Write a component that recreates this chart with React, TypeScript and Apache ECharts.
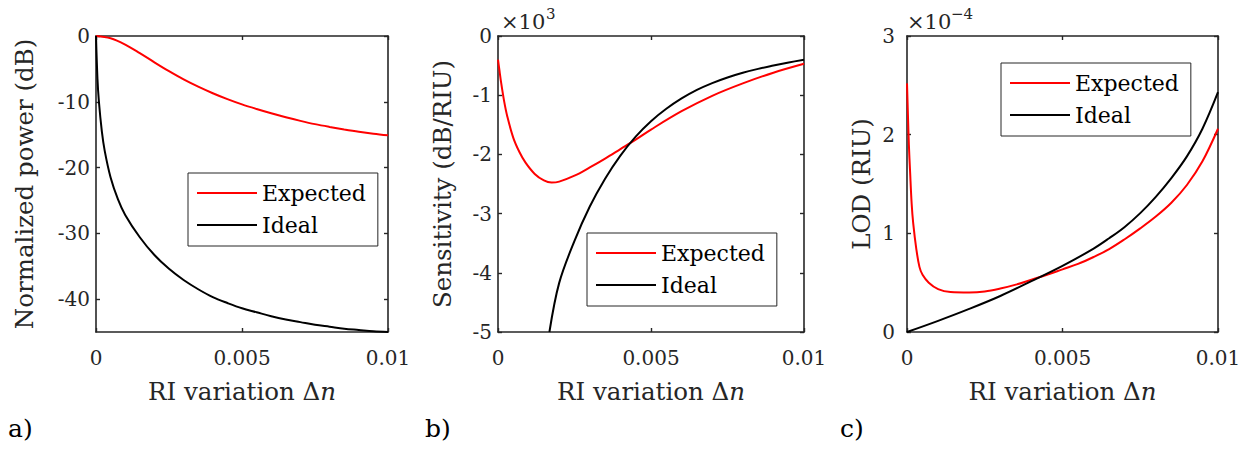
import React, { useEffect, useRef } from "react";
import * as echarts from "echarts";

// ---------- data ----------
const xTicks = [0, 0.005, 0.01];

// a) Normalized power (dB)
const powerExpectedX = [0, 0.0005, 0.001, 0.0015, 0.002, 0.0025, 0.003, 0.0035, 0.004, 0.0045, 0.005, 0.0055, 0.006, 0.0065, 0.007, 0.0075, 0.008, 0.0085, 0.009, 0.0095, 0.01];
const powerExpected = [0, -0.35, -1.3, -2.6, -4.0, -5.35, -6.6, -7.7, -8.7, -9.6, -10.4, -11.1, -11.75, -12.35, -12.9, -13.4, -13.82, -14.2, -14.55, -14.85, -15.1];
const powerIdealX = [0, 0.00005, 0.0001, 0.0002, 0.0003, 0.0005, 0.00075, 0.001, 0.0015, 0.002, 0.0025, 0.003, 0.0035, 0.004, 0.0045, 0.005, 0.0055, 0.006, 0.0065, 0.007, 0.0075, 0.008, 0.0085, 0.009, 0.0095, 0.01];
const powerIdeal = [0, -6.5, -10, -14.5, -17.5, -21.5, -24.8, -27.2, -30.6, -33.3, -35.4, -37.1, -38.5, -39.7, -40.6, -41.4, -42.0, -42.6, -43.1, -43.5, -43.9, -44.2, -44.5, -44.7, -44.9, -45.0];
const powerYTicks = [-40, -30, -20, -10, 0];

// b) Sensitivity (dB/RIU), in units of 10^3
const sensExpectedX = [0, 0.00005, 0.0001, 0.0002, 0.0003, 0.0005, 0.0007, 0.0009, 0.0012, 0.0015, 0.00175, 0.002, 0.0025, 0.003, 0.0035, 0.004, 0.0045, 0.005, 0.006, 0.007, 0.008, 0.009, 0.01];
const sensExpected = [-0.4, -0.59, -0.78, -1.1, -1.35, -1.72, -1.96, -2.14, -2.33, -2.44, -2.475, -2.46, -2.36, -2.22, -2.07, -1.91, -1.75, -1.58, -1.27, -1.01, -0.8, -0.62, -0.47];
const sensIdealX = [0.00168, 0.002, 0.0025, 0.003, 0.0035, 0.004, 0.0045, 0.005, 0.0055, 0.006, 0.0065, 0.007, 0.0075, 0.008, 0.0085, 0.009, 0.0095, 0.01];
const sensIdeal = [-5.0, -4.17, -3.46, -2.88, -2.41, -2.02, -1.7, -1.44, -1.23, -1.055, -0.91, -0.795, -0.7, -0.62, -0.555, -0.5, -0.448, -0.4];

// c) LOD (RIU), in units of 10^-4
const lodExpectedX = [0, 0.00003, 0.00006, 0.0001, 0.00015, 0.0002, 0.0003, 0.0004, 0.0005, 0.0007, 0.001, 0.0014, 0.002, 0.0025, 0.003, 0.0035, 0.004, 0.0045, 0.005, 0.0055, 0.006, 0.0065, 0.007, 0.0075, 0.008, 0.0085, 0.009, 0.0095, 0.01];
const lodExpected = [2.52, 2.2, 1.9, 1.62, 1.3, 1.1, 0.84, 0.66, 0.58, 0.5, 0.435, 0.405, 0.4, 0.41, 0.44, 0.48, 0.53, 0.58, 0.635, 0.69, 0.76, 0.84, 0.94, 1.05, 1.17, 1.31, 1.49, 1.73, 2.06];
const lodIdealX = [0, 0.001, 0.002, 0.003, 0.004, 0.005, 0.006, 0.0065, 0.007, 0.0075, 0.008, 0.0085, 0.009, 0.0095, 0.01];
const lodIdeal = [0, 0.113, 0.234, 0.365, 0.515, 0.67, 0.845, 0.95, 1.065, 1.205, 1.37, 1.56, 1.78, 2.06, 2.43];

const seriesNames = ["Expected", "Ideal"];
const panelLabels = ["a)", "b)", "c)"];
const yTitles = ["Normalized power (dB)", "Sensitivity (dB/RIU)", "LOD (RIU)"];
const xTitle = "RI variation Δ";

// ---------- style ----------
const FONT = '"DejaVu Serif", serif';
const AX = "#262626";
const RED = "#ff0000";
const BLACK = "#000000";

const grids = [
  { left: 96, top: 36, width: 292, height: 296 },
  { left: 498, top: 36, width: 306, height: 296 },
  { left: 907, top: 36, width: 311, height: 296 },
];

const zip = (xs: number[], ys: number[]) => xs.map((x, i) => [x, ys[i]]);

function buildOption() {
  const xAxis: any[] = [];
  const yAxis: any[] = [];
  const lineStyle = { color: AX, width: 1.6 };
  const tickBase = { show: true, inside: true, length: 4, lineStyle: { color: AX, width: 1.4 } };
  const labelBase = { fontFamily: FONT, fontSize: 20, color: AX };

  const yConf = [
    { min: -45, max: 0, custom: powerYTicks, margin: 6, fmt: (v: number) => String(v) },
    { min: -5, max: 0, interval: 1, margin: 6, fmt: (v: number) => String(Math.round(v)) },
    { min: 0, max: 3, interval: 1, margin: 12, fmt: (v: number) => String(Math.round(v)) },
  ];

  grids.forEach((g, i) => {
    const xCommon = { type: "value", gridIndex: i, min: 0, max: 0.01, interval: 0.005, splitLine: { show: false } };
    xAxis.push({
      ...xCommon,
      position: "bottom",
      axisLine: { show: true, onZero: false, lineStyle },
      axisTick: { ...tickBase, customValues: xTicks },
      axisLabel: { ...labelBase, margin: 16, customValues: xTicks, formatter: (v: number) => String(parseFloat(v.toFixed(4))) },
    });
    xAxis.push({
      ...xCommon,
      position: "top",
      axisLine: { show: true, onZero: false, lineStyle },
      axisTick: { ...tickBase, customValues: xTicks },
      axisLabel: { show: false },
    });
    const c: any = yConf[i];
    const yCommon: any = { type: "value", gridIndex: i, min: c.min, max: c.max, splitLine: { show: false } };
    if (c.interval) yCommon.interval = c.interval;
    const tick: any = { ...tickBase };
    const lab: any = { ...labelBase, margin: c.margin, formatter: c.fmt };
    if (c.custom) {
      tick.customValues = c.custom;
      lab.customValues = c.custom;
    }
    yAxis.push({ ...yCommon, position: "left", axisLine: { show: true, onZero: false, lineStyle }, axisTick: tick, axisLabel: lab });
    yAxis.push({ ...yCommon, position: "right", axisLine: { show: true, onZero: false, lineStyle }, axisTick: { ...tick }, axisLabel: { show: false } });
  });

  const mk = (name: string, color: string, gi: number, data: number[][]) => ({
    type: "line",
    name,
    xAxisIndex: gi * 2,
    yAxisIndex: gi * 2,
    data,
    symbol: "none",
    showSymbol: false,
    smooth: 0.35,
    clip: true,
    lineStyle: { color, width: 2 },
    itemStyle: { color },
    z: 3,
  });

  const series = [
    mk("Expected", RED, 0, zip(powerExpectedX, powerExpected)),
    mk("Ideal", BLACK, 0, zip(powerIdealX, powerIdeal)),
    mk("Expected", RED, 1, zip(sensExpectedX, sensExpected)),
    mk("Ideal", BLACK, 1, zip(sensIdealX, sensIdeal)),
    mk("Expected", RED, 2, zip(lodExpectedX, lodExpected)),
    mk("Ideal", BLACK, 2, zip(lodIdealX, lodIdeal)),
  ];

  const legendPos = [
    { left: 188, top: 173 },
    { left: 587, top: 233 },
    { left: 1001, top: 63 },
  ];
  const legend = legendPos.map((p) => ({
    ...p,
    orient: "vertical",
    data: seriesNames,
    icon: "rect",
    itemWidth: 60,
    itemHeight: 2,
    itemGap: 6,
    padding: [7, 12, 8, 9],
    borderColor: AX,
    borderWidth: 1,
    backgroundColor: "#ffffff",
    selectedMode: false,
    textStyle: { fontFamily: FONT, fontSize: 22, color: "#000000", lineHeight: 26 },
  }));

  const txt = (x: number, y: number, text: string, size: number, opts: any = {}) => ({
    type: "text",
    x,
    y,
    rotation: opts.rotation || 0,
    style: {
      text,
      fontFamily: FONT,
      fontSize: size,
      fill: opts.fill || AX,
      align: opts.align || "left",
      textAlign: opts.align || "left",
      verticalAlign: "middle",
      textVerticalAlign: "middle",
      rich: opts.rich,
    },
  });

  const yTitleX = [24.5, 442.5, 861.5];
  const graphic: any[] = [];
  grids.forEach((g, i) => {
    const cy = g.top + g.height / 2;
    const cx = g.left + g.width / 2;
    graphic.push(txt(yTitleX[i], cy, yTitles[i], 24.5, { rotation: Math.PI / 2, align: "center" }));
    graphic.push(
      txt(cx, 391.5, `{r|${xTitle}}{i|n}`, 24.5, {
        align: "center",
        rich: {
          r: { fontFamily: FONT, fontSize: 24.5, fill: AX, color: AX },
          i: { fontFamily: FONT, fontSize: 24.5, fontStyle: "italic", fill: AX, color: AX },
        },
      })
    );
  });
  const panelX = [8, 425, 840];
  panelLabels.forEach((l, i) => graphic.push(txt(panelX[i], 428, l, 25, { fill: "#000000" })));
  // exponent labels
  graphic.push(txt(501, 22, "×10", 21));
  graphic.push(txt(546, 14, "3", 15));
  graphic.push(txt(907, 22, "×10", 21));
  graphic.push(txt(951, 14, "−4", 15));

  return {
    animation: false,
    backgroundColor: "#ffffff",
    grid: grids.map((g) => ({ ...g, containLabel: false, outerBoundsMode: "none" })),
    xAxis,
    yAxis,
    series,
    legend,
    graphic,
  };
}

export default function App() {
  const ref = useRef<HTMLDivElement>(null);
  useEffect(() => {
    if (!ref.current) return;
    const chart = echarts.init(ref.current, undefined, { renderer: "svg" });
    chart.setOption(buildOption() as any);
    return () => chart.dispose();
  }, []);
  return (
    <div
      ref={ref}
      style={{ position: "fixed", left: 0, top: 0, width: 1256, height: 449, background: "#fff" }}
    />
  );
}
